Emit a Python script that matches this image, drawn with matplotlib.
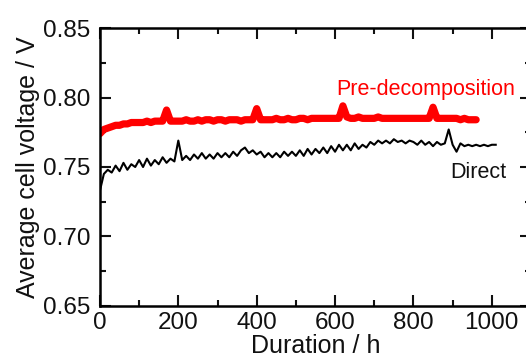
import numpy as np
import matplotlib
matplotlib.use("Agg")
import matplotlib.pyplot as plt
from matplotlib.ticker import MultipleLocator

plt.rcParams['font.family'] = ['Liberation Sans', 'DejaVu Sans']

# Direct operation, sampled every 10 h
direct_h = np.arange(0, 1020, 10)
direct_v = [
    0.733, 0.745, 0.748, 0.746, 0.751, 0.747, 0.753, 0.748, 0.752, 0.750,
    0.755, 0.750, 0.756, 0.751, 0.755, 0.752, 0.757, 0.753, 0.756, 0.754,
    0.769, 0.755, 0.758, 0.755, 0.759, 0.756, 0.760, 0.756, 0.759, 0.756,
    0.760, 0.757, 0.760, 0.757, 0.761, 0.758, 0.762, 0.764, 0.760, 0.762,
    0.759, 0.761, 0.757, 0.760, 0.757, 0.760, 0.757, 0.761, 0.758, 0.761,
    0.758, 0.762, 0.758, 0.763, 0.759, 0.763, 0.760, 0.764, 0.760, 0.765,
    0.761, 0.766, 0.762, 0.766, 0.762, 0.767, 0.763, 0.766, 0.764, 0.768,
    0.766, 0.769, 0.767, 0.769, 0.767, 0.770, 0.768, 0.769, 0.767, 0.769,
    0.768, 0.766, 0.769, 0.766, 0.768, 0.765, 0.768, 0.766, 0.767, 0.777,
    0.766, 0.761, 0.767, 0.765, 0.766, 0.765, 0.766, 0.765, 0.766, 0.765,
    0.766, 0.766,
]

# Pre-decomposition, sampled every 10 h
pre_h = np.arange(0, 970, 10)
pre_v = [
    0.774, 0.777, 0.778, 0.779, 0.780, 0.780, 0.781, 0.781, 0.782, 0.782,
    0.782, 0.782, 0.783, 0.782, 0.783, 0.783, 0.783, 0.791, 0.783, 0.783,
    0.783, 0.783, 0.784, 0.783, 0.783, 0.784, 0.783, 0.784, 0.784, 0.783,
    0.784, 0.784, 0.783, 0.784, 0.784, 0.784, 0.783, 0.784, 0.784, 0.784,
    0.792, 0.784, 0.784, 0.784, 0.784, 0.785, 0.784, 0.784, 0.785, 0.784,
    0.784, 0.785, 0.785, 0.784, 0.785, 0.785, 0.785, 0.785, 0.785, 0.785,
    0.785, 0.785, 0.794, 0.786, 0.785, 0.785, 0.786, 0.785, 0.785, 0.785,
    0.785, 0.786, 0.785, 0.785, 0.785, 0.785, 0.785, 0.785, 0.785, 0.785,
    0.785, 0.785, 0.785, 0.785, 0.785, 0.793, 0.785, 0.785, 0.785, 0.785,
    0.785, 0.785, 0.784, 0.785, 0.784, 0.784, 0.784,
]

fig = plt.figure(figsize=(5.26, 3.61), dpi=100)
ax = fig.add_axes([0.190, 0.1524, 0.8195, 0.770])

ax.plot(pre_h, pre_v, color="#ff0000", lw=5.2, solid_capstyle="round", solid_joinstyle="round")
ax.plot(direct_h, direct_v, color="black", lw=1.5)

ax.text(602, 0.8018, "Pre-decomposition", color="#ff0000", fontsize=15.5, va="baseline")
ax.text(895, 0.742, "Direct", color="#111111", fontsize=15.5, va="baseline")

ax.set_xlim(0, 1100)
ax.set_ylim(0.65, 0.85)
ax.xaxis.set_minor_locator(MultipleLocator(100))
ax.yaxis.set_minor_locator(MultipleLocator(0.025))
ax.set_xticks([0, 200, 400, 600, 800, 1000])
ax.set_yticks([0.65, 0.70, 0.75, 0.80, 0.85])
ax.set_yticklabels(["0.65", "0.70", "0.75", "0.80", "0.85"])

ax.tick_params(which="both", direction="in", top=True, right=True, width=1.5, labelsize=17.5, colors="#111111")
ax.tick_params(which="major", length=8)
ax.tick_params(which="minor", length=4.5)
ax.tick_params(axis="y", pad=7)
ax.tick_params(axis="x", pad=4)
for s in ax.spines.values():
    s.set_linewidth(1.8)

ax.set_xlabel("Duration / h", fontsize=18, labelpad=0, color="#111111")
ax.set_ylabel("Average cell voltage / V", fontsize=18, labelpad=2, color="#111111")

fig.savefig("out.png", dpi=100)
